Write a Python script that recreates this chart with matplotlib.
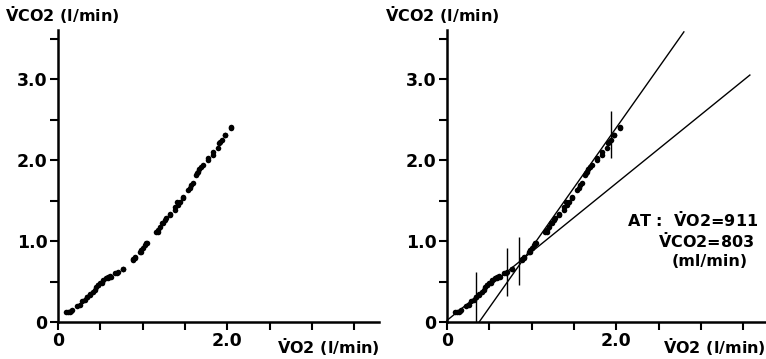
import matplotlib
matplotlib.use("Agg")
import matplotlib.pyplot as plt

plt.rcParams['font.family'] = ['DejaVu Sans']
plt.rcParams['mathtext.fontset'] = 'custom'
plt.rcParams['mathtext.rm'] = 'DejaVu Sans:bold'
plt.rcParams['mathtext.it'] = 'DejaVu Sans:bold'
plt.rcParams['mathtext.bf'] = 'DejaVu Sans:bold'

# data (l/min)
vo2 = [0.098, 0.138, 0.157, 0.256, 0.315, 0.343, 0.374, 0.413, 0.453, 0.472, 0.492, 0.531,
       0.571, 0.591, 0.610, 0.669, 0.709, 0.768, 0.886, 0.906, 0.965, 0.984, 1.024, 1.043,
       1.161, 1.181, 1.201, 1.240, 1.280, 1.319, 1.378, 1.417, 1.437, 1.476, 1.535, 1.575,
       1.634, 1.654, 1.693, 1.772, 1.831, 1.890, 1.909, 1.969, 2.047,
       0.122, 0.162, 0.221, 0.280, 0.339, 0.378, 0.437, 0.477, 0.516, 0.595, 0.626, 0.693,
       0.772, 0.890, 0.910, 0.981, 1.008, 1.048,
       1.186, 1.225, 1.265, 1.324, 1.383, 1.410, 1.481, 1.560, 1.592, 1.647, 1.670, 1.718,
       1.777, 1.836, 1.907, 1.935, 1.974, 2.041]
vco2 = [0.119, 0.128, 0.140, 0.210, 0.272, 0.305, 0.333, 0.374, 0.428, 0.457, 0.486, 0.519,
        0.547, 0.560, 0.568, 0.601, 0.621, 0.650, 0.774, 0.798, 0.868, 0.889, 0.951, 0.979,
        1.115, 1.136, 1.177, 1.226, 1.280, 1.321, 1.383, 1.444, 1.486, 1.527, 1.630, 1.691,
        1.815, 1.856, 1.918, 2.000, 2.062, 2.144, 2.226, 2.309, 2.399,
        0.127, 0.148, 0.198, 0.259, 0.312, 0.342, 0.395, 0.457, 0.485, 0.539, 0.559, 0.601,
        0.654, 0.765, 0.786, 0.868, 0.909, 0.971,
        1.115, 1.218, 1.259, 1.333, 1.416, 1.486, 1.547, 1.650, 1.712, 1.835, 1.885, 1.938,
        2.021, 2.102, 2.206, 2.247, 2.309, 2.404]

# regression lines (x start, x end, slope, intercept)
line_low = (0.0, 3.58, 0.846, 0.02)
line_high = (0.38, 2.80, 1.48, -0.5624)

# vertical marker bars: x, ymin, ymax
bar_x = [0.34, 0.71, 0.85, 1.94]
bar_ymin = [0.0, 0.32, 0.46, 2.02]
bar_ymax = [0.62, 0.91, 1.05, 2.60]

tick_pos = [0, 0.5, 1.0, 1.5, 2.0, 2.5, 3.0, 3.5]
ytick_labels = ['0', '', '1.0', '', '2.0', '', '3.0', '']
xtick_labels = ['0', '', '', '', '2.0', '', '', '']

W, H = 766, 359
fig = plt.figure(figsize=(W / 100, H / 100), dpi=100)

def make_axes(left_px, right_px):
    ax = fig.add_axes([left_px / W, (H - 322) / H, (right_px - left_px) / W, (322 - 30) / H])
    ax.set_xlim(0, (right_px - left_px) / 84.6)
    ax.set_ylim(0, (322 - 30) / 81.0)
    for s in ('top', 'right'):
        ax.spines[s].set_visible(False)
    for s in ('left', 'bottom'):
        ax.spines[s].set_linewidth(1.8)
    ax.set_xticks(tick_pos)
    ax.set_xticklabels(xtick_labels)
    ax.set_yticks(tick_pos)
    ax.set_yticklabels(ytick_labels)
    ax.tick_params(axis='both', direction='out', length=5.5, width=1.5, labelsize=12.5)
    ax.tick_params(axis='x', pad=2)
    ax.tick_params(axis='y', pad=2)
    for lab in ax.get_xticklabels() + ax.get_yticklabels():
        lab.set_fontweight('bold')
    ax.scatter(vo2, vco2, s=16, c='black', linewidths=0, zorder=3)
    return ax

ax1 = make_axes(58, 379)
ax2 = make_axes(447, 766)

for (x0, x1, m, b) in (line_low, line_high):
    ax2.plot([x0, x1], [m * x0 + b, m * x1 + b], color='black', lw=1.0, clip_on=False)
ax2.vlines(bar_x, bar_ymin, bar_ymax, color='black', lw=1.0)

lab_kw = dict(fontsize=11.5, fontweight='bold', color='black')
ylab = r'$\dot{\mathrm{V}}$CO2 (l/min)'
xlab = r'$\dot{\mathrm{V}}$O2 (l/min)'
fig.text(5 / W, 1 - 15 / H, ylab, ha='left', va='center', **lab_kw)
fig.text(385 / W, 1 - 15 / H, ylab, ha='left', va='center', **lab_kw)
fig.text(380 / W, 1 - 347 / H, xlab, ha='right', va='center', **lab_kw)
fig.text(766 / W, 1 - 347 / H, xlab, ha='right', va='center', **lab_kw)

fig.text(627 / W, 1 - 220 / H, r'AT :  $\dot{\mathrm{V}}$O2=911', ha='left', va='center', **lab_kw)
fig.text(658 / W, 1 - 241 / H, r'$\dot{\mathrm{V}}$CO2=803', ha='left', va='center', **lab_kw)
fig.text(672 / W, 1 - 262 / H, '(ml/min)', ha='left', va='center', **lab_kw)

fig.savefig('out.png', dpi=100)
